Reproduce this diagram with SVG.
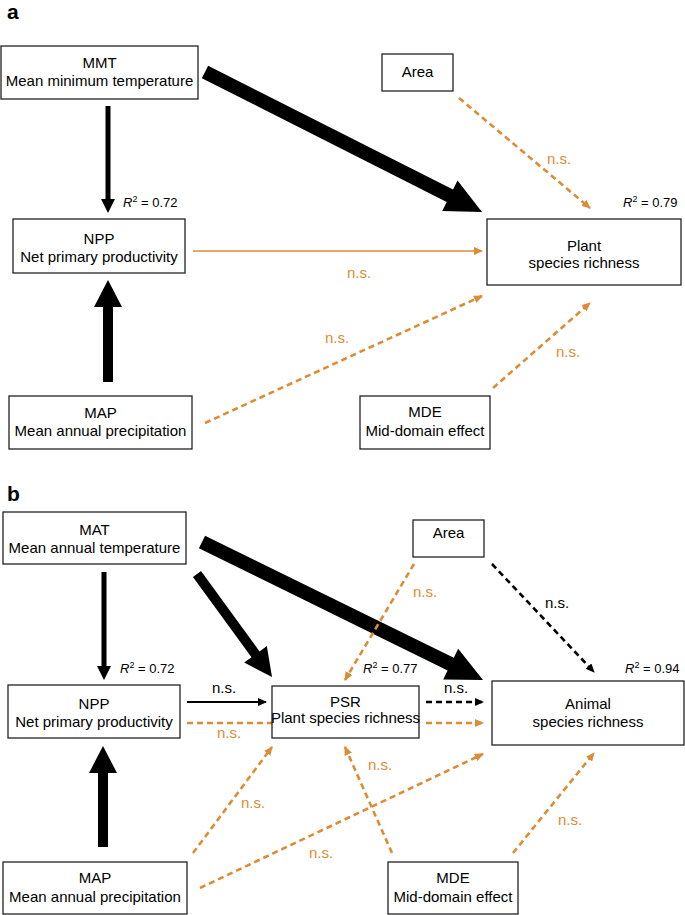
<svg xmlns="http://www.w3.org/2000/svg" width="685" height="915" viewBox="0 0 685 915">
<defs>
<marker id="ho" markerUnits="userSpaceOnUse" markerWidth="9" markerHeight="8" refX="8" refY="4" orient="auto"><path d="M0,0 L9,4 L0,8 z" fill="#DC8C35"/></marker>
<marker id="hk" markerUnits="userSpaceOnUse" markerWidth="9" markerHeight="8" refX="8" refY="4" orient="auto"><path d="M0,0 L9,4 L0,8 z" fill="#000"/></marker>
</defs>
<style>
text{font-family:"Liberation Sans",Arial,sans-serif;font-size:15px;fill:#000}
.box{fill:#fff;stroke:#222;stroke-width:1.3}
.c{text-anchor:middle}
.ns{fill:#DC8C35}
.r2{font-size:13px}
.o{stroke:#DC8C35;stroke-width:2.6;fill:none;stroke-dasharray:6 4;marker-end:url(#ho)}
.os{stroke:#DC8C35;stroke-width:1.6;fill:none;marker-end:url(#ho)}
.k{stroke:#000;stroke-width:2.6;fill:none;stroke-dasharray:6 4;marker-end:url(#hk)}
.ks{stroke:#000;stroke-width:2;fill:none;marker-end:url(#hk)}
.lab{font-size:21px;font-weight:bold}
</style>
<rect width="685" height="915" fill="#fff"/>
<text class="lab" x="7" y="19">a</text>
<text class="lab" x="7" y="501">b</text>

<g id="connectors">
<!-- panel a -->
<polygon points="105.5,106 110.5,106 110.5,199 115,199 108,213 101,199 105.5,199" fill="#000"/>
<polygon points="103,382 113,382 113,307 122,307 108,280 94,307 103,307" fill="#000"/>
<polygon points="208.16,65.75 453.03,189.51 457.54,180.59 482,212 442.20,210.93 446.71,202.01 201.84,78.25" fill="#000"/>
<line class="os" x1="193" y1="251" x2="482" y2="251"/>
<line class="o" x1="459" y1="98" x2="590" y2="208"/>
<line class="o" x1="205" y1="423" x2="482" y2="296"/>
<line class="o" x1="493" y1="388" x2="590" y2="303"/>
<!-- panel b -->
<polygon points="101.5,572 106.5,572 106.5,666 111,666 104,680 97,666 101.5,666" fill="#000"/>
<polygon points="98,847 108,847 108,773 117,773 103,746 89,773 98,773" fill="#000"/>
<polygon points="201.04,571.06 259.56,651.42 266.84,646.12 272,677 244.20,662.60 251.48,657.30 192.96,576.94" fill="#000"/>
<polygon points="205.09,535.72 453.78,657.85 458.18,648.87 483,680 443.20,679.39 447.60,670.41 198.91,548.28" fill="#000"/>
<line class="o" x1="414" y1="564" x2="345" y2="680"/>
<line class="k" x1="492" y1="564" x2="594" y2="672"/>
<line class="ks" x1="187" y1="702" x2="266" y2="702"/>
<line x1="187" y1="723" x2="272" y2="723" stroke="#DC8C35" stroke-width="2.6" stroke-dasharray="6 4"/>
<line class="k" x1="426" y1="702" x2="483" y2="702"/>
<line class="o" x1="426" y1="723" x2="483" y2="723"/>
<line class="o" x1="193" y1="853" x2="272" y2="747"/>
<line class="o" x1="200" y1="888" x2="483" y2="754"/>
<line class="o" x1="392" y1="853" x2="345" y2="747"/>
<line class="o" x1="513" y1="853" x2="594" y2="753"/>
</g>

<g id="labels">
<text class="ns" x="547" y="164">n.s.</text>
<text class="ns" x="347" y="278">n.s.</text>
<text class="ns" x="325" y="343">n.s.</text>
<text class="ns" x="556" y="357">n.s.</text>
<text class="ns" x="413" y="597">n.s.</text>
<text x="545" y="608">n.s.</text>
<text x="212" y="693">n.s.</text>
<text x="444" y="693">n.s.</text>
<text class="ns" x="217" y="738">n.s.</text>
<text class="ns" x="241" y="808">n.s.</text>
<text class="ns" x="309" y="858">n.s.</text>
<text class="ns" x="368" y="770">n.s.</text>
<text class="ns" x="558" y="825">n.s.</text>
<text class="r2" x="123" y="207"><tspan font-style="italic">R</tspan><tspan dy="-5" font-size="9">2</tspan><tspan dy="5"> = 0.72</tspan></text>
<text class="r2" x="623" y="207"><tspan font-style="italic">R</tspan><tspan dy="-5" font-size="9">2</tspan><tspan dy="5"> = 0.79</tspan></text>
<text class="r2" x="120" y="673"><tspan font-style="italic">R</tspan><tspan dy="-5" font-size="9">2</tspan><tspan dy="5"> = 0.72</tspan></text>
<text class="r2" x="363" y="673"><tspan font-style="italic">R</tspan><tspan dy="-5" font-size="9">2</tspan><tspan dy="5"> = 0.77</tspan></text>
<text class="r2" x="625" y="673"><tspan font-style="italic">R</tspan><tspan dy="-5" font-size="9">2</tspan><tspan dy="5"> = 0.94</tspan></text>
</g>

<g id="a-MMT"><rect class="box" x="1" y="46" width="197" height="53"/><text class="c" x="99.5" y="68">MMT</text><text class="c" x="99.5" y="86">Mean minimum temperature</text></g>
<g id="a-Area"><rect class="box" x="382" y="54" width="71" height="37"/><text class="c" x="417.5" y="77">Area</text></g>
<g id="a-NPP"><rect class="box" x="13" y="219" width="172" height="54"/><text class="c" x="99" y="244">NPP</text><text class="c" x="99" y="262">Net primary productivity</text></g>
<g id="a-Plant"><rect class="box" x="487" y="219" width="194" height="66"/><text class="c" x="584" y="251">Plant</text><text class="c" x="584" y="268">species richness</text></g>
<g id="a-MAP"><rect class="box" x="9" y="396" width="183" height="53"/><text class="c" x="100.5" y="418">MAP</text><text class="c" x="100.5" y="436">Mean annual precipitation</text></g>
<g id="a-MDE"><rect class="box" x="360" y="396" width="130" height="53"/><text class="c" x="425" y="417">MDE</text><text class="c" x="425" y="436">Mid-domain effect</text></g>

<g id="b-MAT"><rect class="box" x="3" y="512" width="183" height="52"/><text class="c" x="94.5" y="535">MAT</text><text class="c" x="94.5" y="553">Mean annual temperature</text></g>
<g id="b-Area"><rect class="box" x="413" y="520" width="71" height="37"/><text class="c" x="448.5" y="538">Area</text></g>
<g id="b-NPP"><rect class="box" x="8" y="685" width="172" height="53"/><text class="c" x="94" y="709">NPP</text><text class="c" x="94" y="727">Net primary productivity</text></g>
<g id="b-PSR"><rect class="box" x="272" y="686" width="147" height="52"/><text class="c" x="345.5" y="707">PSR</text><text class="c" x="345.5" y="723" font-size="14">Plant species richness</text></g>
<g id="b-Animal"><rect class="box" x="492" y="681" width="192" height="64"/><text class="c" x="588" y="709">Animal</text><text class="c" x="588" y="727">species richness</text></g>
<g id="b-MAP"><rect class="box" x="3" y="862" width="184" height="52"/><text class="c" x="95" y="883">MAP</text><text class="c" x="95" y="902">Mean annual precipitation</text></g>
<g id="b-MDE"><rect class="box" x="388" y="862" width="130" height="52"/><text class="c" x="453" y="883">MDE</text><text class="c" x="453" y="902">Mid-domain effect</text></g>
</svg>
